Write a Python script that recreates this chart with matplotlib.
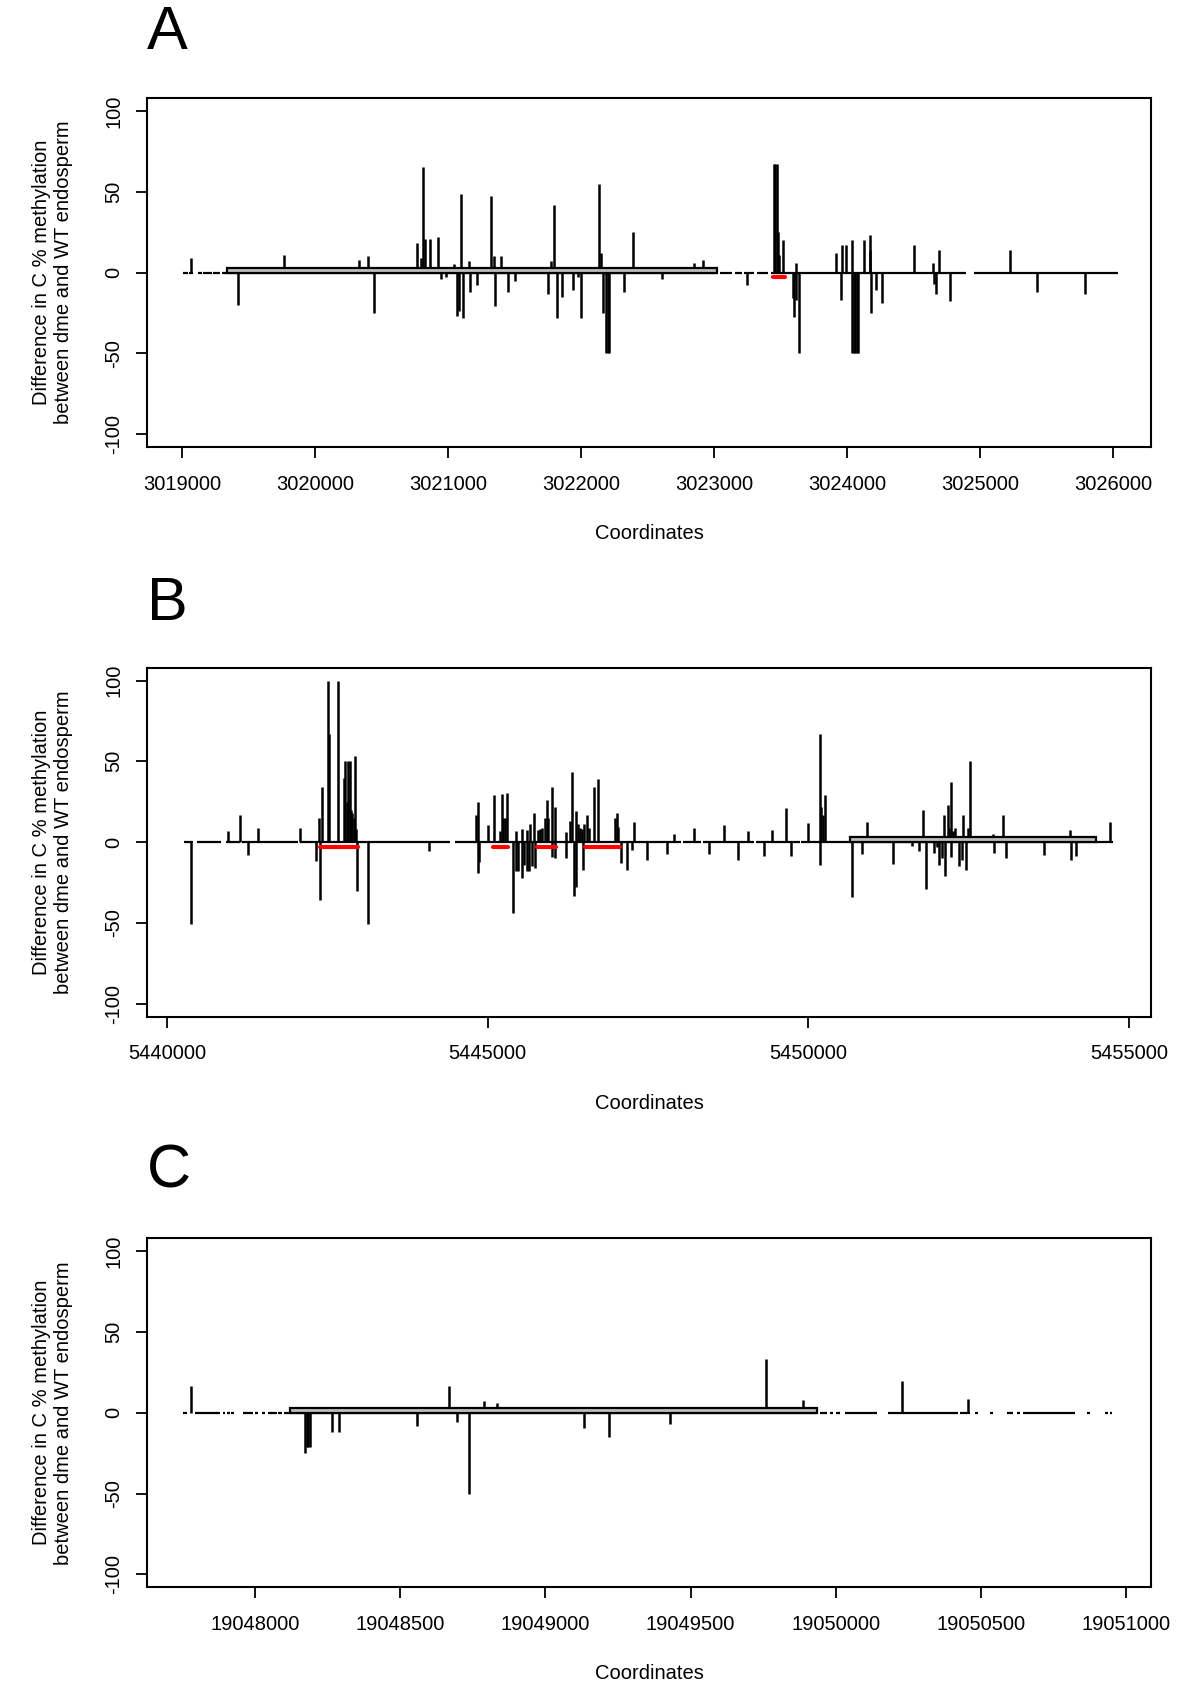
import numpy as np
import matplotlib
matplotlib.use("Agg")
import matplotlib.pyplot as plt
from matplotlib.patches import Rectangle

plt.rcParams['font.family'] = ['Liberation Sans', 'DejaVu Sans']

# ---------------- panel A ----------------
a_pos = [3019066, 3019422, 3019768, 3020332, 3020397, 3020445, 3020763, 3020793, 3020813,
         3020823, 3020863, 3020923, 3020943, 3020983, 3021043, 3021063, 3021078, 3021096,
         3021108, 3021156, 3021166, 3021219, 3021324, 3021344, 3021352, 3021399, 3021447,
         3021502, 3021748, 3021773, 3021796, 3021821, 3021854, 3021941, 3021979, 3021999,
         3022132, 3022150, 3022162, 3022188, 3022200, 3022210, 3022322, 3022390, 3022606,
         3022847, 3022919, 3023248, 3023447, 3023460, 3023470, 3023478, 3023491, 3023521,
         3023590, 3023601, 3023614, 3023618, 3023641, 3023915, 3023955, 3023962, 3023992,
         3024038, 3024040, 3024050, 3024062, 3024074, 3024085, 3024128, 3024168, 3024175,
         3024180, 3024218, 3024261, 3024504, 3024649, 3024652, 3024669, 3024692, 3024772,
         3025225, 3025424, 3025789]
a_val = [9, -20, 11, 8, 10, -25, 18, 9, 65,
         21, 21, 22, -4, -2.5, 5, -27, -24, 48.5,
         -28, 7, -12, -8, 47.5, 10, -21, 10, -12,
         -5, -13, 7, 42, -28, -15, -11, -3, -28,
         55, 12, -25, -50, -50, -50, -12, 25, -4,
         6, 8, -8, 67, 67, 67, 25, 11, 20,
         -16, -27.6, 6, -17, -50, 12, -17, 17, 17,
         -50, 20, -50, -50, -50, -50, 20, 23, 14,
         -25, -11, -19, 17, 6, -7, -13, 14, -17.6,
         14, -12, -13.5]
a_base_start = [3019008, 3019054, 3019121, 3019159, 3019234, 3019297, 3023040, 3023157,
                3023225, 3023320, 3023425, 3024954]
a_base_end = [3019046, 3019084, 3019146, 3019222, 3019284, 3023024, 3023132, 3023207,
              3023300, 3023408, 3024892, 3026040]
a_gene = [(3019335, 3023024)]
a_dmr = [(3023440, 3023533)]
a_xticks = [3019000, 3020000, 3021000, 3022000, 3023000, 3024000, 3025000, 3026000]
a_xlim = (3018735, 3026285)

# ---------------- panel B ----------------
b_pos = [5440381, 5440958, 5441134, 5441270, 5441425, 5442080, 5442319, 5442371, 5442392,
         5442418, 5442506, 5442527, 5442673, 5442756, 5442777, 5442803, 5442819, 5442839,
         5442855, 5442876, 5442891, 5442912, 5442933, 5442954, 5442969, 5443130, 5444081,
         5444814, 5444848, 5444853, 5444872, 5445012, 5445095, 5445194, 5445220, 5445246,
         5445272, 5445303, 5445402, 5445436, 5445440, 5445469, 5445530, 5445534, 5445563,
         5445608, 5445612, 5445641, 5445662, 5445688, 5445727, 5445731, 5445787, 5445818,
         5445854, 5445896, 5445922, 5445948, 5445998, 5446002, 5446050, 5446054, 5446222,
         5446226, 5446286, 5446322, 5446348, 5446377, 5446381, 5446416, 5446442, 5446476,
         5446480, 5446504, 5446546, 5446587, 5446665, 5446717, 5446986, 5447012, 5447038,
         5447080, 5447168, 5447251, 5447282, 5447480, 5447802, 5447901, 5448223, 5448457,
         5448686, 5448909, 5449060, 5449314, 5449439, 5449652, 5449730, 5449990, 5450180,
         5450184, 5450203, 5450224, 5450260, 5450676, 5450837, 5450915, 5451315, 5451622,
         5451731, 5451788, 5451830, 5451960, 5452002, 5452038, 5452080, 5452119, 5452123,
         5452173, 5452199, 5452223, 5452227, 5452251, 5452282, 5452345, 5452397, 5452418,
         5452454, 5452485, 5452521, 5452883, 5452887, 5453041, 5453083, 5453670, 5454080,
         5454095, 5454173, 5454703]
b_val = [-50.6, 6.8, 17, -7.7, 9, 9, -11.4, 14.7, -36,
         34, 100, 67, 100, 40, 50, 25, 50, 23,
         50, 20, 18, 15, 53.5, 8, -30.5, -50.6, -5.6,
         17, 25, -19, -12, 10.4, 29, 7, 29.5, 14.7,
         14.7, 30.7, -44, 7, -18, -18, 8, -22, -14,
         7.5, -18, -18, 11, -15, 18, -16, 7.5, 8,
         9, 14.7, 26, 15, 34, -9, 22, -10, 6,
         -10, 13, 43.6, -33.6, 19, -28, 11, 9, 8,
         -17, 11, 17, 9, 34, 39, 15, 18.3, 9.3,
         -13, -17, -4.6, 12.5, -10.8, -7.3, 4.8, 8.5, -7.3,
         10.4, -10.8, 6.8, -8.3, 7.5, 21, -8.3, 11.6, 67,
         -14, 22, 17, 29, -34, -7.3, 12.7, -13.3, -2.5,
         -5.2, 20, -29, -7, -3, -14, -10, 17, -21,
         23, 9, 37, -9, 7, 9, -15, -11, 17,
         -17, 8.5, 50, 5, -7, 17, -10, -7.7, 7.5,
         -10.8, -8.3, 12.7]
b_base_start = [5440267, 5440464, 5440922, 5441166, 5442075, 5444491, 5448040, 5448350,
                5449185, 5449885]
b_base_end = [5440413, 5440838, 5441140, 5442049, 5444414, 5448015, 5448330, 5449160,
              5449865, 5454745]
b_gene = [(5450650, 5454485)]
b_dmr = [(5442387, 5442974), (5445079, 5445324), (5445766, 5446070), (5446518, 5447064)]
b_xticks = [5440000, 5445000, 5450000, 5455000]
b_xlim = (5439690, 5455342)

# ---------------- panel C ----------------
c_pos = [19047777, 19048171, 19048177, 19048182, 19048188, 19048265, 19048288, 19048559,
         19048666, 19048694, 19048737, 19048790, 19048832, 19049132, 19049220, 19049431,
         19049760, 19049889, 19050230, 19050457]
c_val = [16.6, -25, -21, -21, -21, -12, -12, -8,
         16.6, -6, -50, 7, 6, -9.3, -15, -7,
         33.5, 8, 19.7, 8.7]
c_base_start = [19047752, 19047792, 19047890, 19047901, 19047918, 19047958, 19047999,
                19048022, 19048045, 19048080, 19048099, 19049946, 19049981, 19050003,
                19050032, 19050181, 19050429, 19050480, 19050532, 19050589, 19050624,
                19050647, 19050866, 19050928, 19050944]
c_base_end = [19047766, 19047878, 19047895, 19047913, 19047926, 19047993, 19048010,
              19048034, 19048074, 19048091, 19049935, 19049969, 19049992, 19050015,
              19050141, 19050423, 19050463, 19050492, 19050543, 19050612, 19050635,
              19050825, 19050875, 19050938, 19050952]
c_gene = [(19048120, 19049935)]
c_dmr = []
c_xticks = [19048000, 19048500, 19049000, 19049500, 19050000, 19050500, 19051000]
c_xlim = (19047627, 19051087)

yticks = [-100, -50, 0, 50, 100]
ylab = "Difference in C % methylation\nbetween dme and WT endosperm"


def draw_panel(ax, pos, val, bstart, bend, genes, dmrs, xticks, xlim):
    ax.hlines(np.zeros(len(bstart)), bstart, bend, color='black', lw=1.6)
    ax.vlines(pos, np.zeros(len(pos)), val, color='black', lw=1.8)
    for g0, g1 in genes:
        ax.add_patch(Rectangle((g0, 0), g1 - g0, 3, facecolor='#bebebe',
                               edgecolor='black', lw=1.6, zorder=3))
    if dmrs:
        ax.hlines(np.full(len(dmrs), -3.0), [d[0] for d in dmrs], [d[1] for d in dmrs],
                  color='red', lw=3, capstyle='round', zorder=4)
    ax.set_xlim(*xlim)
    ax.set_ylim(-108, 108)
    ax.set_xticks(xticks)
    ax.set_xticklabels([str(t) for t in xticks])
    ax.set_yticks(yticks)
    ax.set_yticklabels([str(t) for t in yticks])
    ax.tick_params(axis='both', length=8, width=1.3, labelsize=14.5, direction='out')
    ax.tick_params(axis='x', pad=12)
    ax.tick_params(axis='y', pad=9, labelrotation=90)
    for lab in ax.get_yticklabels():
        lab.set_va('center')
    for sp in ax.spines.values():
        sp.set_linewidth(1.5)
    ax.set_xlabel("Coordinates", fontsize=14.5)
    ax.xaxis.set_label_coords(0.5, -0.2206)
    ax.set_ylabel(ylab, fontsize=14.5, linespacing=1.25)
    ax.yaxis.label.set_va('center')
    ax.yaxis.set_label_coords(-0.0941, 0.5)


fig = plt.figure(figsize=(12, 17.07), dpi=100)
ax1 = fig.add_axes([0.1225, 0.7381, 0.8367, 0.2045])
ax2 = fig.add_axes([0.1225, 0.4044, 0.8367, 0.2045])
ax3 = fig.add_axes([0.1225, 0.0701, 0.8367, 0.2045])

draw_panel(ax1, a_pos, a_val, a_base_start, a_base_end, a_gene, a_dmr, a_xticks, a_xlim)
draw_panel(ax2, b_pos, b_val, b_base_start, b_base_end, b_gene, b_dmr, b_xticks, b_xlim)
draw_panel(ax3, c_pos, c_val, c_base_start, c_base_end, c_gene, c_dmr, c_xticks, c_xlim)

fig.text(147 / 1200, 1 - 49 / 1707, "A", fontsize=44, ha='left', va='baseline')
fig.text(147 / 1200, 1 - 620 / 1707, "B", fontsize=44, ha='left', va='baseline')
fig.text(147 / 1200, 1 - 1187 / 1707, "C", fontsize=44, ha='left', va='baseline')

plt.savefig("out.png", dpi=100)
plt.close()
